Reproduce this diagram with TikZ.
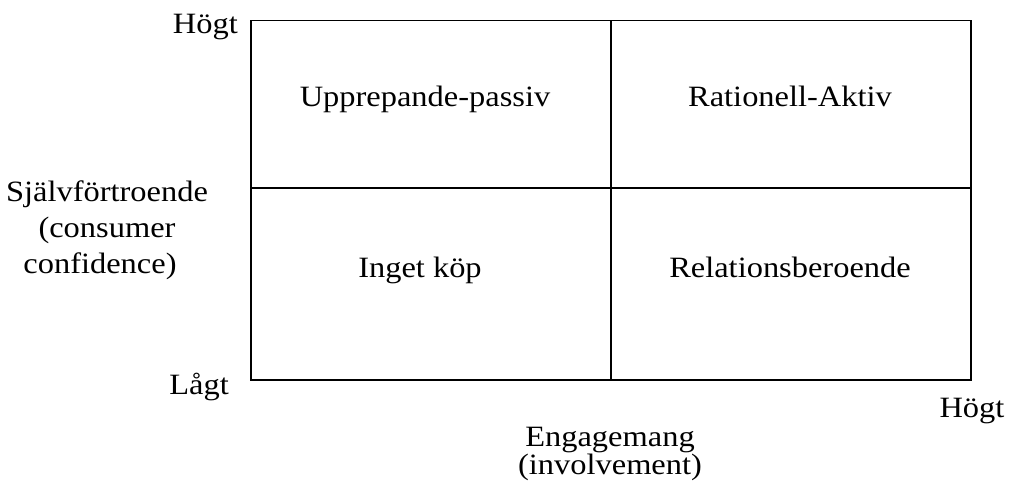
\documentclass[tikz,border=0pt]{standalone}
\usepackage{fontspec}
\setmainfont[FakeStretch=1.1]{Liberation Serif}
\begin{document}
\begin{tikzpicture}[x=1pt,y=-1pt,
  grid/.style={line width=1.8pt,draw=black},
  lbl/.style={font=\fontsize{29.5}{35}\selectfont,inner sep=0pt,anchor=base}]
\useasboundingbox (0,0) rectangle (1011,483);
% matrix frame
\coordinate (tl) at (251,20.5);
\coordinate (br) at (971,380);
\coordinate (tm) at (611,20.5);
\coordinate (bm) at (611,380);
\coordinate (ml) at (251,188);
\coordinate (mr) at (971,188);
\draw[grid] (tl) rectangle (br);
\draw[grid] (tm) -- (bm);
\draw[grid] (ml) -- (mr);
% quadrant labels
\node[lbl] (q1) at (425,106) {Upprepande-passiv};
\node[lbl] (q2) at (790,106) {Rationell-Aktiv};
\node[lbl] (q3) at (420,277) {Inget köp};
\node[lbl] (q4) at (790,277) {Relationsberoende};
% vertical axis
\node[lbl,anchor=base east] (yhi) at (238,33) {Högt};
\node[lbl,anchor=base east] (ylo) at (229,394) {Lågt};
\node[lbl] (ya) at (107,201) {Självförtroende};
\node[lbl] (yb) at (107,237) {(consumer};
\node[lbl] (yc) at (100,273) {confidence)};
% horizontal axis
\node[lbl] (xhi) at (972,417) {Högt};
\node[lbl] (xa) at (610,446) {Engagemang};
\node[lbl] (xb) at (610,474) {(involvement)};
\end{tikzpicture}
\end{document}
